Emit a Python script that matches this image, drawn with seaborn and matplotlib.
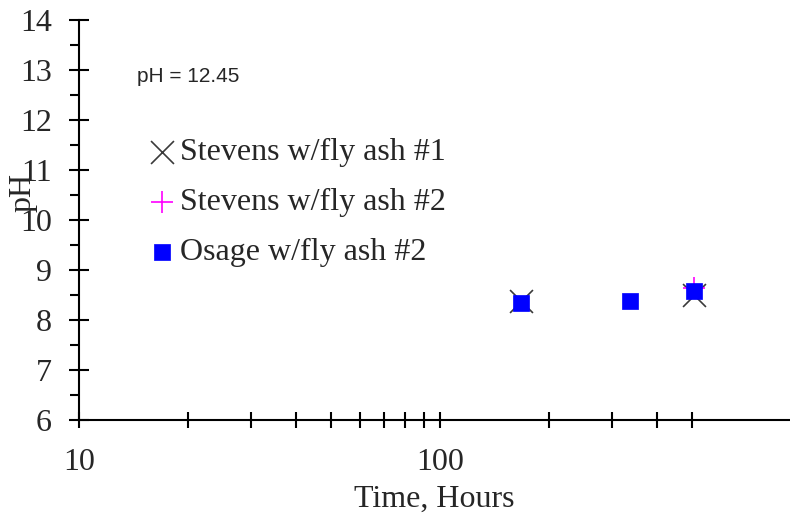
import matplotlib
matplotlib.use("Agg")
import matplotlib.pyplot as plt
import seaborn as sns
import pandas as pd
from matplotlib.ticker import FixedLocator, NullFormatter, FixedFormatter

# ---- data ----
s1_time = [168, 504]
s1_ph = [8.39, 8.50]
s2_time = [504]
s2_ph = [8.64]
osage_time = [168, 336, 504]
osage_ph = [8.35, 8.39, 8.58]

series_names = ["Stevens w/fly ash #1", "Stevens w/fly ash #2", "Osage w/fly ash #2"]
annotation = "pH = 12.45"
x_major = [10, 100]
x_major_labels = ["10", "100"]
x_minor = [20, 30, 40, 50, 60, 70, 80, 90, 200, 300, 400, 500]
y_ticks = [6, 7, 8, 9, 10, 11, 12, 13, 14]

sns.set_style("white")
plt.rcParams["font.family"] = ["Liberation Serif", "DejaVu Serif"]

FS = 23

fig = plt.figure(figsize=(7.9, 5.23), dpi=100)
ax = fig.add_axes([79/790, 1 - 420/523, 711/790, 400/523])

df1 = pd.DataFrame({"t": s1_time, "ph": s1_ph})
df2 = pd.DataFrame({"t": s2_time, "ph": s2_ph})
df3 = pd.DataFrame({"t": osage_time, "ph": osage_ph})

sns.scatterplot(data=df1, x="t", y="ph", marker="x", s=16.5**2, color="#3a3a3a",
                linewidth=1.2, ax=ax, label=series_names[0], zorder=3)
sns.scatterplot(data=df2, x="t", y="ph", marker="+", s=16.5**2, color="#ff00ff",
                linewidth=1.2, ax=ax, label=series_names[1], zorder=3)
sns.scatterplot(data=df3, x="t", y="ph", marker="s", s=11**2, color="#0000ff",
                edgecolor="#0000ff", linewidth=0.5, ax=ax, label=series_names[2], zorder=4)

ax.set_xscale("log")
ax.set_xlim(10, 932)
ax.set_ylim(6, 14)

ax.xaxis.set_major_locator(FixedLocator(x_major))
ax.xaxis.set_major_formatter(FixedFormatter(x_major_labels))
ax.xaxis.set_minor_locator(FixedLocator(x_minor))
ax.xaxis.set_minor_formatter(NullFormatter())
ax.yaxis.set_major_locator(FixedLocator(y_ticks))
ax.yaxis.set_minor_locator(FixedLocator([v + 0.5 for v in y_ticks[:-1]]))

for side in ["top", "right"]:
    ax.spines[side].set_visible(False)
for side in ["left", "bottom"]:
    ax.spines[side].set_color("black")
    ax.spines[side].set_linewidth(1.5)

ax.tick_params(axis="y", which="major", direction="inout", length=15, width=1.5,
               labelsize=FS, pad=12, color="black", left=True)
ax.tick_params(axis="y", which="minor", direction="out", length=6.5, width=1.5,
               color="black", left=True)
ax.tick_params(axis="x", which="major", direction="inout", length=12, width=1.5,
               labelsize=FS, pad=14.5, color="black", bottom=True)
ax.tick_params(axis="x", which="minor", direction="inout", length=11, width=1.5,
               color="black", bottom=True)

ax.set_xlabel("Time, Hours", fontsize=FS, labelpad=5)
ax.set_ylabel("pH", fontsize=FS)
ax.yaxis.set_label_coords(-0.059, 0.57)

ax.text(0.0816, 0.8575, annotation, transform=ax.transAxes, ha="left", va="center",
        fontsize=15, family=["Liberation Sans", "DejaVu Sans"])

ax.legend(loc="upper left", bbox_to_anchor=(0.0999, 0.705), frameon=False,
          fontsize=FS, handlelength=0.75, handletextpad=0.19, labelspacing=0.64,
          borderaxespad=0, borderpad=0)

ax.grid(False)
fig.savefig("out.png", dpi=100)
